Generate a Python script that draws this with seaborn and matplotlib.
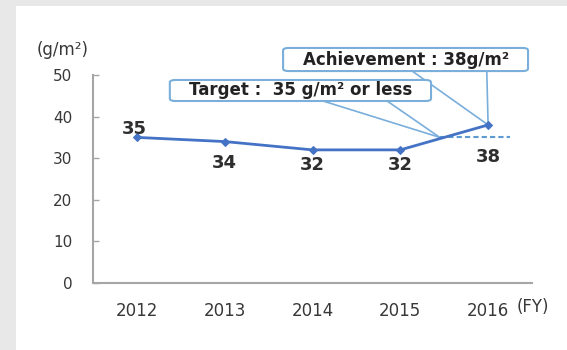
import matplotlib
matplotlib.use("Agg")
import matplotlib.pyplot as plt
from matplotlib.patches import FancyBboxPatch, Rectangle
import pandas as pd
import seaborn as sns

# Paper consumption per unit area by fiscal year
years = ["2012", "2013", "2014", "2015", "2016"]
values = [35, 34, 32, 32, 38]
target = 35
y_ticks = [0, 10, 20, 30, 40, 50]

unit_label = "(g/m²)"
fy_label = "(FY)"
target_text = "Target :  35 g/m² or less"
achievement_text = "Achievement : 38g/m²"

LINE = "#4472c4"
BOX = "#7aaedb"
TEXT = "#383838"
AXIS = "#a6a6a6"

sns.set_theme(style="white")
plt.rcParams["font.family"] = ["DejaVu Sans"]

fig = plt.figure(figsize=(5.67, 3.5), dpi=100)
fig.patch.set_facecolor("#e8e8e8")
panel = Rectangle((16 / 567, 0), 1, 1 - 6 / 350, transform=fig.transFigure,
                  facecolor="white", edgecolor="none", zorder=-10)
fig.add_artist(panel)

ax = fig.add_axes([93 / 567, 67 / 350, 439 / 567, 208 / 350])
ax.set_zorder(1)
ax.set_facecolor("none")

df = pd.DataFrame({"year": years, "value": values})
sns.lineplot(data=df, x="year", y="value", ax=ax, color=LINE, linewidth=2,
             marker="D", markersize=4.5, markeredgecolor=LINE, zorder=4)

ax.set_xlim(-0.5, len(years) - 0.5)
ax.set_ylim(0, 50)
ax.set_yticks(y_ticks)
ax.set_xlabel("")
ax.set_ylabel("")

for side in ["top", "right"]:
    ax.spines[side].set_visible(False)
for side in ["left", "bottom"]:
    ax.spines[side].set_color(AXIS)
    ax.spines[side].set_linewidth(1.5)

ax.tick_params(axis="y", direction="in", length=4, width=1, color=AXIS,
               labelsize=11, labelcolor=TEXT, pad=15, left=True)
ax.tick_params(axis="x", length=0, labelsize=12, labelcolor=TEXT, pad=14)

# Value labels next to each point (offsets in pixels)
label_offsets = [(-3, 8), (0, -21), (0, -15), (0, -15), (0, -32)]
for i, (v, (dx, dy)) in enumerate(zip(values, label_offsets)):
    ax.annotate(str(v), xy=(i, v), xytext=(dx, dy), textcoords="offset pixels",
                ha="center", va="center", fontsize=13, fontweight="bold",
                color="#2e2e2e", zorder=6)

# Target line
ax.plot([3.45, 4.25], [target, target], linestyle=(0, (2.5, 1.5)), color="#5b9bd5",
        linewidth=1.5, zorder=3)

# Axis unit texts
ax.text(-0.07, 1.12, unit_label, transform=ax.transAxes, ha="center", va="center",
        fontsize=12, color=TEXT)
ax.text(1.002, -0.115, fy_label, transform=ax.transAxes, ha="center", va="center",
        fontsize=12, color=TEXT)


def callout(x0, x1, y0, y1, text, tip, anchors):
    box = FancyBboxPatch((x0, y0), x1 - x0, y1 - y0,
                         boxstyle="round,pad=0,rounding_size=0.012",
                         transform=ax.transAxes, facecolor="white", edgecolor=BOX,
                         linewidth=1.5, clip_on=False, zorder=5)
    ax.add_patch(box)
    ax.text((x0 + x1) / 2, (y0 + y1) / 2, text, transform=ax.transAxes,
            ha="center", va="center", fontsize=12, fontweight="bold",
            color="#222222", zorder=6)
    for ax_x in anchors:
        ax.annotate("", xy=tip, xycoords="data", xytext=(ax_x, y0),
                    textcoords="axes fraction",
                    arrowprops=dict(arrowstyle="-", color=BOX, lw=1.2,
                                    shrinkA=0, shrinkB=0),
                    zorder=2, annotation_clip=False)


callout(0.433, 0.991, 1.019, 1.130, achievement_text, (4, values[4]), [0.727, 0.897])
callout(0.175, 0.770, 0.875, 0.976, target_text, (3.45, target), [0.524, 0.670])

fig.savefig("out.png", dpi=100, facecolor=fig.get_facecolor())
